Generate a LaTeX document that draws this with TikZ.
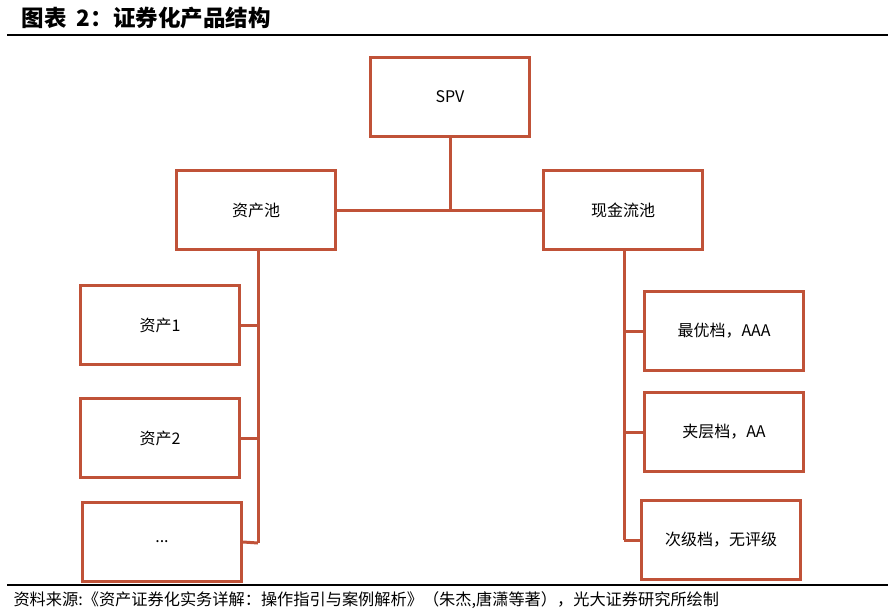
\documentclass[tikz,border=0pt]{standalone}
\usepackage{fontspec}
\usepackage{xcolor}
\setmainfont{Noto Sans CJK SC}
\definecolor{boxred}{RGB}{192,82,56}

\begin{document}
\begin{tikzpicture}[
  x=1pt, y=-1pt,
  font=\fontsize{16}{18}\selectfont,
  tier/.style={draw=boxred, line width=3pt, fill=white, align=center, minimum width=159pt, minimum height=79pt, inner sep=4pt},
  link/.style={draw=boxred, line width=3pt, line join=miter}
]
\useasboundingbox (0,0) rectangle (888,613);

% title and rules
\node[anchor=west, font=\fontsize{22.5}{24}\selectfont\bfseries] (title) at (18,18) {图表\ \ 2：证券化产品结构};
\draw[line width=2pt] (7,35) -- (888,35);
\draw[line width=2pt] (7,585) -- (888,585);
\node[anchor=west, font=\fontsize{16.2}{18}\selectfont] (src) at (10,600)
  {资料来源:《资产证券化实务详解：操作指引与案例解析》（朱杰,唐潇等著），光大证券研究所绘制};

% top
\node[tier] (spv) at (450,97) {SPV};
\node[tier] (pool) at (256,210) {资产池};
\node[tier] (cash) at (623,210) {现金流池};

\draw[link] (pool.east) -- (cash.west);
\draw[link] (spv.south) -- (spv.south |- pool.east);

% assets
\node[tier] (a1) at (160,325) {资产1};
\node[tier] (a2) at (160,438) {资产2};
\node[tier] (a3) at (162,542) {...};

\coordinate (lbot) at (258,543);
\draw[link] (pool.south -| lbot) -- (lbot);
\draw[link] (a1.east) -- (a1.east -| lbot);
\draw[link] (a2.east) -- (a2.east -| lbot);
\draw[link] (a3.east) -- (lbot);

% tranches
\node[tier] (t1) at (724,331) {最优档，AAA};
\node[tier] (t2) at (724,432) {夹层档，AA};
\node[tier] (t3) at (721,540) {次级档，无评级};

\coordinate (rbot) at (624,540);
\draw[link] (cash.south -| rbot) -- (rbot);
\draw[link] (t1.west) -- (t1.west -| rbot);
\draw[link] (t2.west) -- (t2.west -| rbot);
\draw[link] (t3.west) -- (rbot);

\end{tikzpicture}
\end{document}
